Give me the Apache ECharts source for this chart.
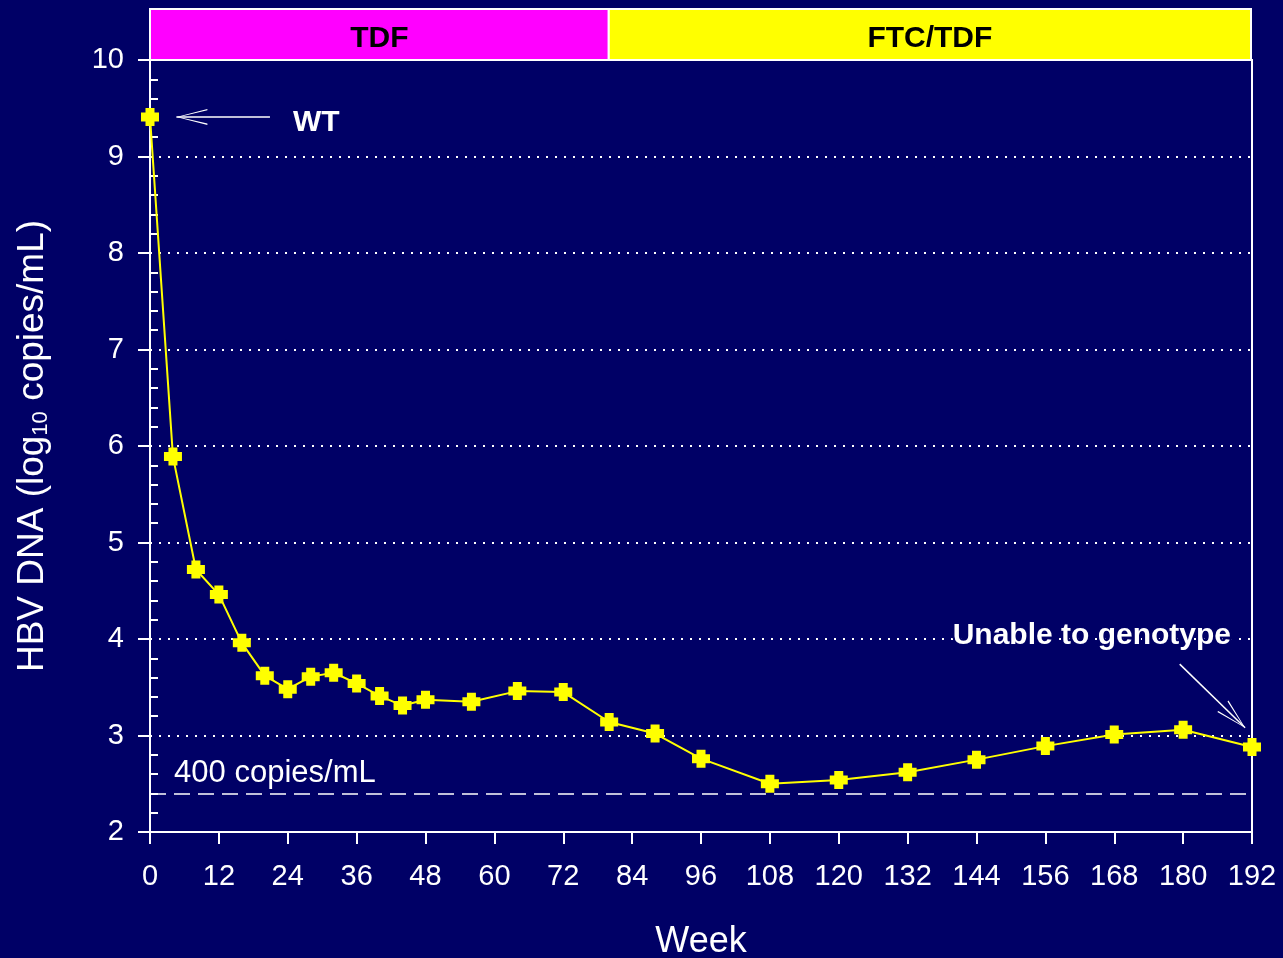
<!DOCTYPE html>
<html>
<head>
<meta charset="utf-8">
<script src="https://cdn.jsdelivr.net/npm/echarts@6/dist/echarts.min.js"></script>
<style>
html,body{margin:0;padding:0;background:#000066;}
#chart{width:1283px;height:958px;}
</style>
</head>
<body>
<div id="chart"></div>
<script>
// ---- data ----
var weeks = [0, 4, 8, 12, 16, 20, 24, 28, 32, 36, 40, 44, 48, 56, 64, 72, 80, 88, 96, 108, 120, 132, 144, 156, 168, 180, 192];
var hbvDna = [9.41, 5.89, 4.72, 4.46, 3.96, 3.62, 3.48, 3.61, 3.65, 3.54, 3.41, 3.31, 3.37, 3.35, 3.46, 3.45, 3.14, 3.02, 2.76, 2.50, 2.54, 2.62, 2.75, 2.89, 3.01, 3.06, 2.88];
var phaseNames = ['TDF', 'FTC/TDF'];
var phaseStart = [0, 80];
var phaseEnd = [80, 192];
var lloq = 2.4;           // 400 copies/mL line
var yTicks = [2, 3, 4, 5, 6, 7, 8, 9, 10];
var xTicks = [0, 12, 24, 36, 48, 60, 72, 84, 96, 108, 120, 132, 144, 156, 168, 180, 192];

var FONT = 'Arial, "Liberation Sans", sans-serif';
var chevron = 'path://M8,-31 L8.01,-31 L8,-30.99 Z M8,0 L16,31 L14.6,31 L8,2.6 L1.4,31 L0,31 Z';
var cross = 'path://M4.5,0 H13.5 V4.5 H18 V13.5 H13.5 V18 H4.5 V13.5 H0 V4.5 H4.5 Z';

var chart = echarts.init(document.getElementById('chart'));

var phaseAreas = phaseNames.map(function (n, i) {
  return [
    { xAxis: phaseStart[i], name: n, itemStyle: { color: i === 0 ? '#ff00ff' : '#ffff00' } },
    { xAxis: phaseEnd[i] }
  ];
});

chart.setOption({
  backgroundColor: '#000066',
  animation: false,
  textStyle: { fontFamily: FONT },
  grid: [
    { left: 150, right: 31, top: 60, bottom: 126, show: true, borderColor: '#ffffff', borderWidth: 2, backgroundColor: 'transparent', containLabel: false, outerBoundsMode: 'none' },
    { left: 150, right: 32, top: 9, height: 51, containLabel: false, outerBoundsMode: 'none' }
  ],
  xAxis: [
    {
      type: 'value', min: 0, max: 192, interval: 12, gridIndex: 0,
      name: 'Week', nameLocation: 'middle', nameGap: 92,
      nameTextStyle: { color: '#ffffff', fontSize: 36, fontFamily: FONT },
      axisLine: { show: true, onZero: false, lineStyle: { color: '#ffffff', width: 2 } },
      axisTick: { show: true, length: 12, lineStyle: { color: '#ffffff', width: 2 } },
      axisLabel: { color: '#ffffff', fontSize: 29, margin: 30, fontFamily: FONT,
        formatter: function (v) { return xTicks.indexOf(v) >= 0 ? String(v) : ''; } },
      splitLine: { show: false }
    },
    { type: 'value', min: 0, max: 192, gridIndex: 1, show: false }
  ],
  yAxis: [
    {
      type: 'value', min: 2, max: 10, interval: 1, gridIndex: 0,
      name: '{a|HBV DNA (log}{s|10}{a| copies/mL)}',
      nameLocation: 'middle', nameGap: 98, nameRotate: 90,
      nameTextStyle: {
        color: '#ffffff', fontFamily: FONT,
        rich: {
          a: { fontSize: 37, color: '#ffffff', fontFamily: FONT },
          s: { fontSize: 22, color: '#ffffff', fontFamily: FONT, padding: [16, 0, 0, 0] }
        }
      },
      axisLine: { show: true, onZero: false, lineStyle: { color: '#ffffff', width: 2 } },
      axisTick: { show: true, length: 12, lineStyle: { color: '#ffffff', width: 2 } },
      axisLabel: { color: '#ffffff', fontSize: 29, margin: 26, fontFamily: FONT,
        formatter: function (v) { return yTicks.indexOf(v) >= 0 ? String(v) : ''; } },
      splitLine: { show: true, lineStyle: { color: '#ffffff', width: 2, type: [2, 7] } }
    },
    {
      type: 'value', min: 2, max: 10, interval: 1, gridIndex: 0, position: 'left',
      axisLine: { show: false },
      axisTick: { show: false, inside: true },
      axisLabel: { show: false },
      minorTick: { show: true, splitNumber: 5, length: 8, lineStyle: { color: '#ffffff', width: 2 } },
      splitLine: { show: false }
    },
    { type: 'value', min: 0, max: 1, gridIndex: 1, show: false }
  ],
  series: [
    {
      type: 'line',
      xAxisIndex: 0, yAxisIndex: 0,
      data: weeks.map(function (w, i) { return [w, hbvDna[i]]; }),
      symbol: cross, symbolSize: 18,
      itemStyle: { color: '#ffff00' },
      lineStyle: { color: '#ffff00', width: 2 },
      z: 5,
      markLine: {
        silent: true, animation: false,
        symbol: ['none', 'none'],
        label: { show: false },
        data: [
          { yAxis: lloq, lineStyle: { color: '#ffffff', width: 1.5, type: [16, 8] } },
          [
            { coord: [20.9, hbvDna[0]], symbol: 'none', lineStyle: { color: '#ffffff', width: 1.5, type: 'solid' } },
            { coord: [4.6, hbvDna[0]], symbol: chevron, symbolSize: [16, 62] }
          ],
          [
            { coord: [179.4, 3.74], symbol: 'none', lineStyle: { color: '#ffffff', width: 1.5, type: 'solid' } },
            { coord: [190.8, 3.08], symbol: chevron, symbolSize: [16, 62] }
          ]
        ]
      },
      markPoint: {
        silent: true, animation: false,
        symbol: 'circle', symbolSize: 0,
        data: [
          { coord: [24.9, 9.35], label: { show: true, formatter: 'WT', position: 'inside', align: 'left', color: '#ffffff', fontSize: 30, fontWeight: 'bold', fontFamily: FONT } },
          { coord: [4.2, 2.61], label: { show: true, formatter: '400 copies/mL', position: 'inside', align: 'left', color: '#ffffff', fontSize: 31, fontFamily: FONT } },
          { coord: [164.1, 4.03], label: { show: true, formatter: 'Unable to genotype', position: 'inside', align: 'center', color: '#ffffff', fontSize: 30, fontWeight: 'bold', fontFamily: FONT, textBorderColor: '#000066', textBorderWidth: 4 } }
        ]
      }
    },
    {
      type: 'line', xAxisIndex: 1, yAxisIndex: 2, data: [], silent: true,
      markArea: {
        silent: true,
        itemStyle: { borderColor: '#ffffff', borderWidth: 2, opacity: 1 },
        label: { show: true, position: 'inside', offset: [0, 4], color: '#000000', fontSize: 30, fontWeight: 'bold', fontFamily: FONT },
        data: phaseAreas
      }
    }
  ]
});
</script>
</body>
</html>
